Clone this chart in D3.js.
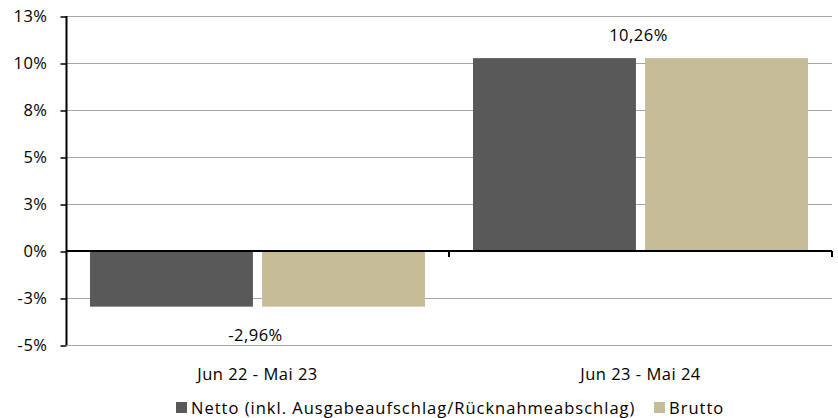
<!DOCTYPE html>
<html>
<head>
<meta charset="utf-8">
<script src="https://cdn.jsdelivr.net/npm/d3@7"></script>
<style>
  body { margin: 0; background: #fff; }
  svg text { font-family: "Open Sans", sans-serif; fill: #000; letter-spacing: 0.5px; }
</style>
</head>
<body>
<svg width="838" height="418"></svg>
<script>
var categories = ["Jun 22 - Mai 23", "Jun 23 - Mai 24"];
var series = ["Netto (inkl. Ausgabeaufschlag/Rücknahmeabschlag)", "Brutto"];
var netto = [-2.96, 10.26];
var brutto = [-2.96, 10.26];
var labels = ["-2,96%", "10,26%"];
var yTicks = [-5, -2.5, 0, 2.5, 5, 7.5, 10, 12.5];
var yTickLabels = ["-5%", "-3%", "0%", "3%", "5%", "8%", "10%", "13%"];
var colors = ["#595959", "#c4bd97"];

var svg = d3.select("svg");
var mLeft = 66, mRight = 832, mTop = 16, mBottom = 345;
var fs = 16.5;

var x = d3.scaleBand().domain(categories).range([mLeft, mRight]).paddingInner(0).paddingOuter(0);
var xs = d3.scaleBand().domain(series).range([24, x.bandwidth() - 24]).paddingInner(0.053);
var y = d3.scaleLinear().domain([-5, 12.5]).range([mBottom, mTop]);

// gridlines
svg.append("g").selectAll("line")
  .data(yTicks.filter(function(d) { return d != 0; }))
  .enter().append("line")
    .attr("x1", mLeft).attr("x2", mRight)
    .attr("y1", function(d) { return y(d) + 0.5; })
    .attr("y2", function(d) { return y(d) + 0.5; })
    .attr("stroke", "#a6a6a6").attr("stroke-width", 1);

// bars
var rows = categories.map(function(c, i) { return {cat: c, vals: [netto[i], brutto[i]]}; });
var grp = svg.append("g").selectAll("g").data(rows).enter().append("g")
  .attr("transform", function(d) { return "translate(" + x(d.cat) + ",0)"; });
grp.selectAll("rect")
  .data(function(d) { return d.vals.map(function(v, j) { return {s: series[j], v: v, j: j}; }); })
  .enter().append("rect")
    .attr("x", function(d) { return xs(d.s); })
    .attr("width", xs.bandwidth())
    .attr("y", function(d) { return y(Math.max(0, d.v)); })
    .attr("height", function(d) { return Math.abs(y(d.v) - y(0)); })
    .attr("fill", function(d) { return colors[d.j]; });

// value labels
svg.append("g").selectAll("text").data(rows).enter().append("text")
  .attr("x", function(d) { return x(d.cat) + x.bandwidth() / 2 - 2; })
  .attr("y", function(d, i) { return d.vals[0] < 0 ? y(d.vals[0]) + 34 : y(d.vals[0]) - 17; })
  .attr("text-anchor", "middle")
  .attr("font-size", fs)
  .text(function(d, i) { return labels[i]; });

// y axis
var yAxis = d3.axisLeft(y).tickValues(yTicks).tickSize(6).tickPadding(13)
  .tickFormat(function(d, i) { return yTickLabels[i]; });
var ya = svg.append("g").attr("transform", "translate(" + (mLeft + 0.5) + ",0.5)").call(yAxis);
ya.select(".domain").attr("stroke", "#000").attr("stroke-width", 2).attr("d", "M0," + (mTop - 0.5) + "V" + (mBottom - 0.5));
ya.selectAll(".tick line").attr("stroke", "#000").attr("stroke-width", 1.5);
ya.selectAll(".tick text").attr("font-size", fs).attr("font-family", "'Open Sans', sans-serif").attr("fill", "#000");

// x axis line at zero
var xb = svg.append("g").attr("transform", "translate(0," + y(0) + ")");
xb.append("line").attr("x1", mLeft).attr("x2", mRight).attr("stroke", "#000").attr("stroke-width", 2);
xb.selectAll("line.tk").data(categories).enter().append("line")
  .attr("class", "tk")
  .attr("x1", function(d) { return x(d) + x.bandwidth(); })
  .attr("x2", function(d) { return x(d) + x.bandwidth(); })
  .attr("y1", 0).attr("y2", 6)
  .attr("stroke", "#000").attr("stroke-width", 2);

// category labels
svg.append("g").selectAll("text").data(categories).enter().append("text")
  .attr("x", function(d) { return x(d) + x.bandwidth() / 2; })
  .attr("y", 380)
  .attr("text-anchor", "middle")
  .attr("font-size", fs)
  .text(function(d) { return d; });

// legend
var legendX = [176, 654];
var lg = svg.append("g").selectAll("g").data(series).enter().append("g")
  .attr("transform", function(d, i) { return "translate(" + legendX[i] + ",402)"; });
lg.append("rect").attr("width", 11).attr("height", 11).attr("fill", function(d, i) { return colors[i]; });
lg.append("text").attr("x", 15).attr("y", 12).attr("font-size", fs)
  .style("letter-spacing", "1px")
  .text(function(d) { return d; });
</script>
</body>
</html>
